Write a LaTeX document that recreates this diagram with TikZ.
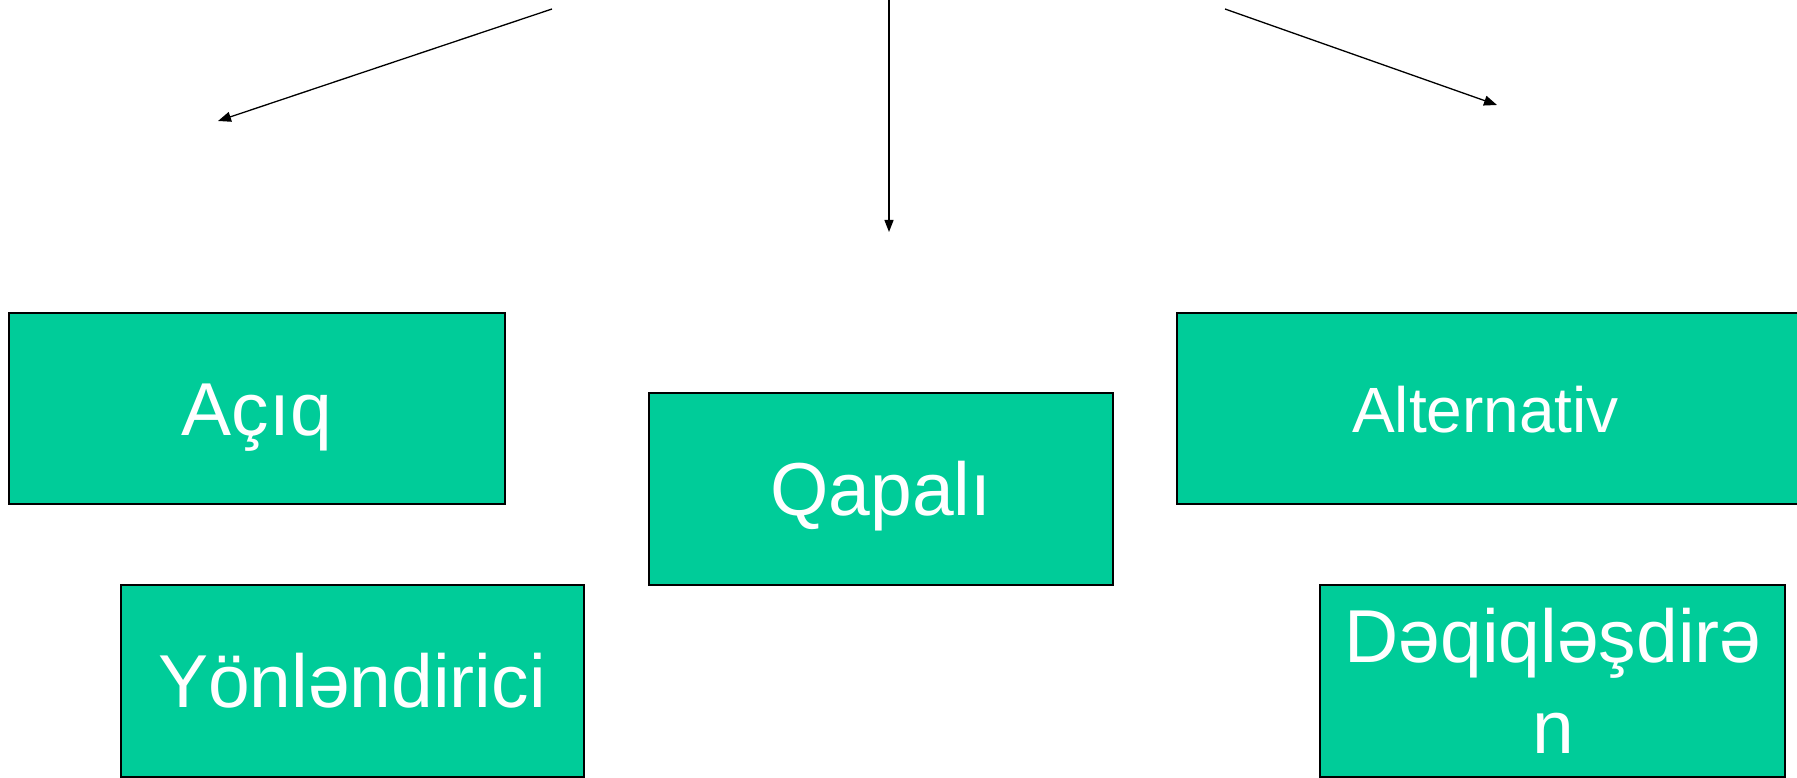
\documentclass[tikz,border=0pt]{standalone}
\usepackage{fontspec}
\setmainfont{Liberation Sans}
\usetikzlibrary{arrows.meta}
\definecolor{boxgreen}{HTML}{00CC99}
\tikzset{
  greenbox/.style={draw=black, line width=1.5pt, fill=boxgreen},
  boxlabel/.style={text=white, anchor=base, inner sep=0pt, font=\fontsize{75}{86}\selectfont},
  conn/.style={line width=1.3pt, -{Triangle[length=13pt,width=10pt]}}
}
\begin{document}
\begin{tikzpicture}[x=1pt,y=-1pt]
\useasboundingbox (0,0) rectangle (1797,778);
% boxes
\draw[greenbox] (9,313) rectangle (505,504);
\draw[greenbox] (649,393) rectangle (1113,585);
\draw[greenbox] (1177,313) rectangle (1830,504);
\draw[greenbox] (121,585) rectangle (584,777);
\draw[greenbox] (1320,585) rectangle (1785,777);
% labels
\node[boxlabel] (aciq) at (257,435.5) {Açıq};
\node[boxlabel] (qapali) at (881,515.5) {Qapalı};
\node[boxlabel, font=\fontsize{64}{74}\selectfont] (alt) at (1485.5,432) {Alternativ};
\node[boxlabel] (yon) at (352,707) {Yönləndirici};
\node[boxlabel] (deq1) at (1553,662.5) {Dəqiqləşdirə};
\node[boxlabel] (deq2) at (1553,753) {n};
% connectors
\coordinate (s1) at (552,9);
\coordinate (e1) at (218,121);
\coordinate (s2) at (889,0);
\coordinate (e2) at (889,232);
\coordinate (s3) at (1225,9);
\coordinate (e3) at (1497,105);
\draw[conn] (s1) -- (e1);
\draw[conn, -{Triangle[length=12pt,width=9pt]}] (s2) -- (e2);
\draw[conn] (s3) -- (e3);
\end{tikzpicture}
\end{document}
